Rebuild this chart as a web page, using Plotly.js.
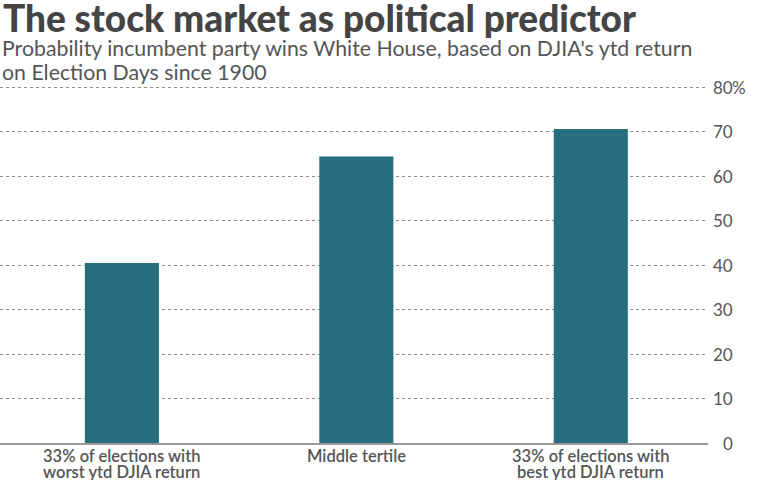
<!DOCTYPE html>
<html>
<head>
<meta charset="utf-8">
<script src="https://cdn.plot.ly/plotly-3.0.1.min.js"></script>
<style>
  html, body { margin: 0; padding: 0; background: #fff; }
  #chart { width: 760px; height: 480px; }
</style>
</head>
<body>
<div id="chart"></div>
<script>
// ---- data ----
const categories = ["Worst tertile", "Middle tertile", "Best tertile"];
const categoryLine1 = ["33% of elections with", "Middle tertile", "33% of elections with"];
const categoryLine2 = ["worst ytd DJIA return", "", "best ytd DJIA return"];
const probability = [40.5, 64.4, 70.6];
const tickVals = [0, 10, 20, 30, 40, 50, 60, 70, 80];
const tickLabels = ["0", "10", "20", "30", "40", "50", "60", "70", "80"];
const topSuffix = "%";
const titleText = "The stock market as political predictor";
const subtitleLines = [
  "Probability incumbent party wins White House, based on DJIA's ytd return",
  "on Election Days since 1900"
];

// ---- styles / geometry ----
const barColor = "#266d80";
const textColor = "#555555";
const font = "Lato, 'Open Sans', sans-serif";
const W = 760, H = 480;
const mL = 0, mR = 52, mB = 37;
const yMax = 80.5;
const pxPerUnit = 4.45;
const plotH = yMax * pxPerUnit;
const mT = H - mB - plotH;
const plotW = W - mL - mR;
const pyToPaper = py => (H - mB - py) / plotH;
const pxToPaper = px => (px - mL) / plotW;

const trace = {
  type: "bar",
  x: categories,
  y: probability,
  width: 0.316,
  marker: { color: barColor, line: { width: 0 } },
  hoverinfo: "skip"
};

const annotations = tickVals.map((v, i) => ({
  xref: "paper", yref: "y",
  x: pxToPaper(734), y: v,
  xanchor: "right", yanchor: "middle",
  borderpad: 0,
  text: tickLabels[i],
  showarrow: false,
  font: { family: font, size: 17, color: textColor }
}));
annotations.push({
  xref: "paper", yref: "y",
  x: pxToPaper(734), y: tickVals[tickVals.length - 1],
  xanchor: "left", yanchor: "middle", xshift: -3,
  borderpad: 0,
  text: topSuffix,
  showarrow: false,
  font: { family: font, size: 17, color: textColor }
});
subtitleLines.forEach((t, i) => annotations.push({
  xref: "paper", yref: "paper",
  x: pxToPaper(1), y: pyToPaper(34 + i * 23.5),
  xanchor: "left", yanchor: "top",
  borderpad: 0,
  text: t,
  showarrow: false,
  font: { family: font, size: 21.3, color: textColor }
}));
categories.forEach((c, i) => {
  [categoryLine1[i], categoryLine2[i]].forEach((t, j) => {
    if (!t) return;
    annotations.push({
      xref: "x", yref: "paper",
      x: c, y: pyToPaper(445 + j * 16.5),
      xanchor: "center", yanchor: "top",
      borderpad: 0,
      text: t,
      showarrow: false,
      font: { family: font, size: 16.5, weight: 600, color: textColor }
    });
  });
});

const layout = {
  width: W, height: H,
  margin: { l: mL, r: mR, t: mT, b: mB, pad: 0 },
  paper_bgcolor: "#ffffff",
  plot_bgcolor: "#ffffff",
  showlegend: false,
  title: {
    text: titleText,
    x: 3 / W, xref: "container", xanchor: "left",
    y: 1 - 6 / H, yref: "container", yanchor: "top",
    font: { family: "Lato, sans-serif", size: 37, weight: 900, color: "#444444" },
    pad: { t: 0, b: 0, l: 0, r: 0 }
  },
  xaxis: {
    type: "category",
    range: [-0.52, 2.5],
    showgrid: false,
    showline: true, linecolor: "#9a9a9a", linewidth: 2,
    ticks: "", zeroline: false, showticklabels: false,
    automargin: false, fixedrange: true
  },
  yaxis: {
    range: [0, yMax],
    side: "right",
    tickvals: tickVals,
    showticklabels: false,
    showgrid: true, gridcolor: "#8f8f8f", gridwidth: 1, griddash: "dot",
    zeroline: false, showline: false, ticks: "",
    automargin: false, fixedrange: true
  },
  annotations: annotations
};

Plotly.newPlot("chart", [trace], layout, { displayModeBar: false, staticPlot: true });
</script>
</body>
</html>
